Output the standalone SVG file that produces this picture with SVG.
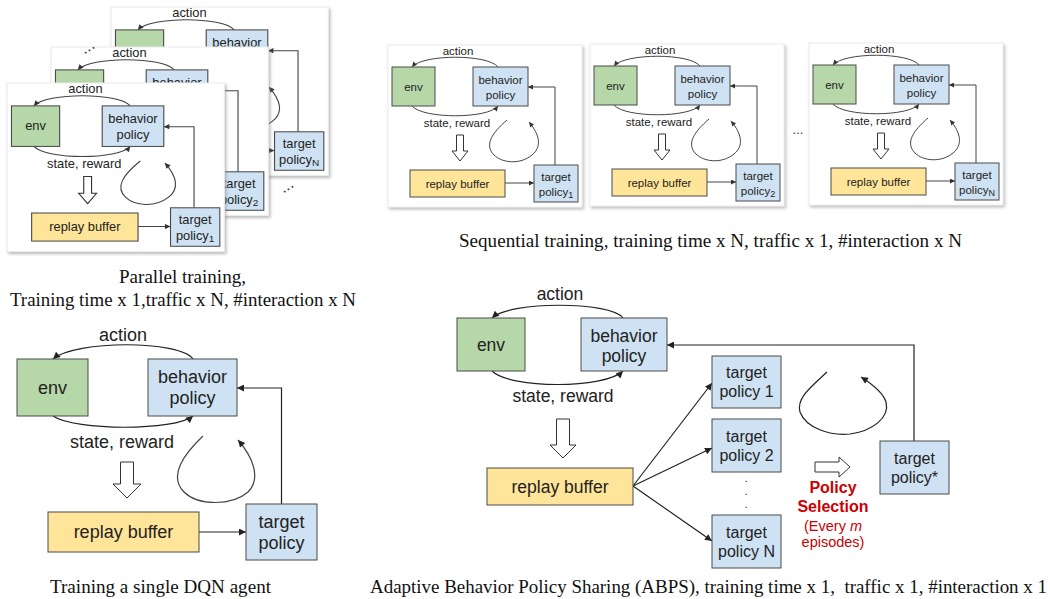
<svg xmlns="http://www.w3.org/2000/svg" width="1050" height="599" viewBox="0 0 1050 599">
<style>
.t{font-family:"Liberation Sans",Arial,sans-serif;font-size:11.5px;fill:#222;text-anchor:middle}
.sub{font-size:9px}
.L{font-size:18px}
.M{font-size:17.5px}
.S{font-size:16px}
.cap{font-family:"Liberation Serif","Times New Roman",serif;font-size:19px;fill:#111;text-anchor:middle;white-space:pre}
.g{fill:#b6d7a8;stroke:#4a4a4a;stroke-width:1}
.b{fill:#cfe2f3;stroke:#4a4a4a;stroke-width:1}
.y{fill:#ffe599;stroke:#4a4a4a;stroke-width:1}
.conn path{fill:none;stroke:#444;stroke-width:1}
.conn2 path{fill:none;stroke:#222;stroke-width:1.2}
.conn path.hollow,.conn2 path.hollow{fill:#fff;stroke:#333;stroke-width:1}
.card{fill:#fff;stroke:#ececec;stroke-width:1;filter:url(#sh)}
.red{fill:#cc0000;font-family:"Liberation Sans",Arial,sans-serif;text-anchor:middle}
.dots{font-family:"Liberation Sans",Arial,sans-serif;fill:#333;text-anchor:middle}
</style>
<defs>
<filter id="sh" x="-5%" y="-5%" width="112%" height="115%">
<feDropShadow dx="1.5" dy="2" stdDeviation="1.5" flood-color="#888" flood-opacity="0.55"/>
</filter>
<marker id="ah" viewBox="0 0 10 10" refX="10" refY="5" markerWidth="6" markerHeight="5" markerUnits="userSpaceOnUse" orient="auto"><path d="M0,0 L10,5 L0,10 z" fill="#333"/></marker>
<marker id="ahL" viewBox="0 0 10 10" refX="10" refY="5" markerWidth="9" markerHeight="7" markerUnits="userSpaceOnUse" orient="auto"><path d="M0,0 L10,5 L0,10 z" fill="#222"/></marker>
</defs>
<rect width="1050" height="599" fill="#fff"/>

<!-- ================= PARALLEL (back) ================= -->
<g id="par3" transform="translate(111,7) scale(1.12,1.04)">
 <rect class="card" x="0" y="0" width="194" height="162"/>
 <g id="p3-connectors" class="conn">
  <path d="M110,22 C100,9 35,9 24,22" marker-end="url(#ah)"/>
  <path d="M24,61 C35,74 100,74 110,61" marker-end="url(#ah)"/>
  <path d="M117,138 L146,138" marker-end="url(#ah)"/>
  <path d="M167,120 L167,42 L140,42" marker-end="url(#ah)"/>
  <path d="M119,75 C104,88 96,100 106,110 C114,118 132,120 144,110 C154,102 152,90 141,77" marker-end="url(#ah)"/>
 </g>
 <text class="t" x="70" y="10">action</text>
 <g id="p3-env"><rect class="g" x="4" y="22" width="43" height="39"/></g>
 <g id="p3-behavior"><rect class="b" x="85" y="22" width="55" height="39"/><text class="t" x="112.5" y="38.5">behavior</text></g>
 <g id="p3-target"><rect class="b" x="146" y="120" width="44" height="37"/><text class="t" x="168" y="135.5">target</text><text class="t" x="168" y="150.5">policy<tspan class="sub" dy="2">N</tspan></text></g>
</g>

<!-- ================= PARALLEL (middle) ================= -->
<g id="par2" transform="translate(51,47) scale(1.12,1.04)">
 <rect class="card" x="0" y="0" width="194" height="162"/>
 <g id="p2-connectors" class="conn">
  <path d="M110,22 C100,9 35,9 24,22" marker-end="url(#ah)"/>
  <path d="M117,138 L146,138" marker-end="url(#ah)"/>
  <path d="M167,120 L167,42 L140,42" marker-end="url(#ah)"/>
 </g>
 <text class="t" x="70" y="10">action</text>
 <g id="p2-env"><rect class="g" x="4" y="22" width="43" height="39"/></g>
 <g id="p2-behavior"><rect class="b" x="85" y="22" width="55" height="39"/><text class="t" x="112.5" y="38.5">behavior</text></g>
 <g id="p2-target"><rect class="b" x="146" y="120" width="44" height="37"/><text class="t" x="168" y="135.5">target</text><text class="t" x="168" y="150.5">policy<tspan class="sub" dy="2">2</tspan></text></g>
</g>

<!-- ================= PARALLEL (front) ================= -->
<g id="par1" transform="translate(7,83) scale(1.12,1.04)">
 <rect class="card" x="0" y="0" width="194" height="162"/>
 <g id="p1-connectors" class="conn">
  <path d="M110,22 C100,9 35,9 24,22" marker-end="url(#ah)"/>
  <path d="M24,61 C35,74 100,74 110,61" marker-end="url(#ah)"/>
  <path d="M117,138 L146,138" marker-end="url(#ah)"/>
  <path d="M167,120 L167,42 L140,42" marker-end="url(#ah)"/>
  <path d="M119,75 C104,88 96,100 106,110 C114,118 132,120 144,110 C154,102 152,90 141,77" marker-end="url(#ah)"/>
  <path class="hollow" d="M68.5,90 H75.5 V106 H80 L72,116 L64,106 H68.5 Z"/>
 </g>
 <text class="t" x="70" y="10">action</text>
 <text class="t" x="69" y="82">state, reward</text>
 <g id="p1-env"><rect class="g" x="4" y="22" width="43" height="39"/><text class="t" x="25.5" y="45.5">env</text></g>
 <g id="p1-behavior"><rect class="b" x="85" y="22" width="55" height="39"/><text class="t" x="112.5" y="38.5">behavior</text><text class="t" x="112.5" y="53.5">policy</text></g>
 <g id="p1-replay"><rect class="y" x="22" y="125" width="95" height="27"/><text class="t" x="69.5" y="142.5">replay buffer</text></g>
 <g id="p1-target"><rect class="b" x="146" y="120" width="44" height="37"/><text class="t" x="168" y="135.5">target</text><text class="t" x="168" y="150.5">policy<tspan class="sub" dy="2">1</tspan></text></g>
</g>
<text class="dots" font-size="16" transform="translate(90,51) rotate(-32)">...</text>
<text class="dots" font-size="16" transform="translate(289,190) rotate(-32)">...</text>

<text class="cap" x="182.5" y="283" textLength="127" lengthAdjust="spacingAndGlyphs">Parallel training,</text>
<text class="cap" x="183" y="306" textLength="346" lengthAdjust="spacingAndGlyphs">Training time x 1,traffic x N, #interaction x N</text>

<!-- ================= SEQUENTIAL ================= -->
<g id="seq1" transform="translate(388,45)">
 <rect class="card" x="0" y="0" width="194" height="162"/>
 <g id="s1-connectors" class="conn">
  <path d="M110,22 C100,9 35,9 24,22" marker-end="url(#ah)"/>
  <path d="M24,61 C35,74 100,74 110,61" marker-end="url(#ah)"/>
  <path d="M117,138 L146,138" marker-end="url(#ah)"/>
  <path d="M167,120 L167,42 L140,42" marker-end="url(#ah)"/>
  <path d="M119,75 C104,88 96,100 106,110 C114,118 132,120 144,110 C154,102 152,90 141,77" marker-end="url(#ah)"/>
  <path class="hollow" d="M68.5,90 H75.5 V106 H80 L72,116 L64,106 H68.5 Z"/>
 </g>
 <text class="t" x="70" y="10">action</text>
 <text class="t" x="69" y="82">state, reward</text>
 <g id="s1-env"><rect class="g" x="4" y="22" width="43" height="39"/><text class="t" x="25.5" y="45.5">env</text></g>
 <g id="s1-behavior"><rect class="b" x="85" y="22" width="55" height="39"/><text class="t" x="112.5" y="38.5">behavior</text><text class="t" x="112.5" y="53.5">policy</text></g>
 <g id="s1-replay"><rect class="y" x="22" y="125" width="95" height="27"/><text class="t" x="69.5" y="142.5">replay buffer</text></g>
 <g id="s1-target"><rect class="b" x="146" y="120" width="44" height="37"/><text class="t" x="168" y="135.5">target</text><text class="t" x="168" y="150.5">policy<tspan class="sub" dy="2">1</tspan></text></g>
</g>

<g id="seq2" transform="translate(590,44)">
 <rect class="card" x="0" y="0" width="194" height="162"/>
 <g id="s2-connectors" class="conn">
  <path d="M110,22 C100,9 35,9 24,22" marker-end="url(#ah)"/>
  <path d="M24,61 C35,74 100,74 110,61" marker-end="url(#ah)"/>
  <path d="M117,138 L146,138" marker-end="url(#ah)"/>
  <path d="M167,120 L167,42 L140,42" marker-end="url(#ah)"/>
  <path d="M119,75 C104,88 96,100 106,110 C114,118 132,120 144,110 C154,102 152,90 141,77" marker-end="url(#ah)"/>
  <path class="hollow" d="M68.5,90 H75.5 V106 H80 L72,116 L64,106 H68.5 Z"/>
 </g>
 <text class="t" x="70" y="10">action</text>
 <text class="t" x="69" y="82">state, reward</text>
 <g id="s2-env"><rect class="g" x="4" y="22" width="43" height="39"/><text class="t" x="25.5" y="45.5">env</text></g>
 <g id="s2-behavior"><rect class="b" x="85" y="22" width="55" height="39"/><text class="t" x="112.5" y="38.5">behavior</text><text class="t" x="112.5" y="53.5">policy</text></g>
 <g id="s2-replay"><rect class="y" x="22" y="125" width="95" height="27"/><text class="t" x="69.5" y="142.5">replay buffer</text></g>
 <g id="s2-target"><rect class="b" x="146" y="120" width="44" height="37"/><text class="t" x="168" y="135.5">target</text><text class="t" x="168" y="150.5">policy<tspan class="sub" dy="2">2</tspan></text></g>
</g>

<text class="dots" font-size="13" x="798" y="134">...</text>

<g id="seq3" transform="translate(809,43)">
 <rect class="card" x="0" y="0" width="194" height="162"/>
 <g id="s3-connectors" class="conn">
  <path d="M110,22 C100,9 35,9 24,22" marker-end="url(#ah)"/>
  <path d="M24,61 C35,74 100,74 110,61" marker-end="url(#ah)"/>
  <path d="M117,138 L146,138" marker-end="url(#ah)"/>
  <path d="M167,120 L167,42 L140,42" marker-end="url(#ah)"/>
  <path d="M119,75 C104,88 96,100 106,110 C114,118 132,120 144,110 C154,102 152,90 141,77" marker-end="url(#ah)"/>
  <path class="hollow" d="M68.5,90 H75.5 V106 H80 L72,116 L64,106 H68.5 Z"/>
 </g>
 <text class="t" x="70" y="10">action</text>
 <text class="t" x="69" y="82">state, reward</text>
 <g id="s3-env"><rect class="g" x="4" y="22" width="43" height="39"/><text class="t" x="25.5" y="45.5">env</text></g>
 <g id="s3-behavior"><rect class="b" x="85" y="22" width="55" height="39"/><text class="t" x="112.5" y="38.5">behavior</text><text class="t" x="112.5" y="53.5">policy</text></g>
 <g id="s3-replay"><rect class="y" x="22" y="125" width="95" height="27"/><text class="t" x="69.5" y="142.5">replay buffer</text></g>
 <g id="s3-target"><rect class="b" x="146" y="120" width="44" height="37"/><text class="t" x="168" y="135.5">target</text><text class="t" x="168" y="150.5">policy<tspan class="sub" dy="2">N</tspan></text></g>
</g>

<text class="cap" x="710.5" y="247" textLength="503" lengthAdjust="spacingAndGlyphs">Sequential training, training time x N, traffic x 1, #interaction x N</text>

<!-- ================= SINGLE DQN ================= -->
<g id="dqn-connectors" class="conn2">
 <path d="M193,359 C180,340 75,340 53,359" marker-end="url(#ahL)"/>
 <path d="M53,416 C75,431 175,431 193,416" marker-end="url(#ahL)"/>
 <path d="M199,532 L246,532" marker-end="url(#ahL)"/>
 <path d="M281.5,504 V388 H237" marker-end="url(#ahL)"/>
 <path d="M203,436 C184,454 168,476 184,492 C198,506 232,506 248,492 C262,478 252,456 238,440" style="stroke:#444" marker-end="url(#ahL)"/>
 <path class="hollow" d="M120.5,462 H133.5 V484 H141 L127,498 L113,484 H120.5 Z"/>
</g>
<text class="t L" x="123" y="341">action</text>
<text class="t L" x="122" y="448">state, reward</text>
<g id="dqn-env"><rect class="g" x="17" y="359" width="71" height="57"/><text class="t L" x="52.5" y="394">env</text></g>
<g id="dqn-behavior"><rect class="b" x="148" y="359" width="89" height="57"/><text class="t L" x="192.5" y="383">behavior</text><text class="t L" x="192.5" y="404">policy</text></g>
<g id="dqn-replay"><rect class="y" x="48" y="512" width="151" height="40"/><text class="t L" x="123.5" y="538">replay buffer</text></g>
<g id="dqn-target"><rect class="b" x="246" y="504" width="71" height="56"/><text class="t L" x="281.5" y="528">target</text><text class="t L" x="281.5" y="549">policy</text></g>
<text class="cap" x="160.5" y="593" textLength="221" lengthAdjust="spacingAndGlyphs">Training a single DQN agent</text>

<!-- ================= ABPS ================= -->
<g id="abps-connectors" class="conn2">
 <path d="M623,318 C610,301 510,301 492,318" marker-end="url(#ahL)"/>
 <path d="M492,371 C510,389 605,389 623,371" marker-end="url(#ahL)"/>
 <path d="M633,486 L712,383" marker-end="url(#ahL)"/>
 <path d="M633,486 L712,448" marker-end="url(#ahL)"/>
 <path d="M633,486 L712,541" marker-end="url(#ahL)"/>
 <path d="M914,441 V345 H667" marker-end="url(#ahL)"/>
 <path d="M827,372 C812,386 796,398 800,412 C806,428 830,436 850,434 C872,431 890,418 886,402 C883,392 872,384 861,377" marker-end="url(#ahL)"/>
 <path class="hollow" d="M556.5,419 H569.5 V445 H576 L563,458 L550,445 H556.5 Z"/>
 <path class="hollow" d="M815,462 H839 V457 L850,467 L839,477 V472 H815 Z"/>
</g>
<text class="t M" x="560" y="300">action</text>
<text class="t M" x="563" y="402">state, reward</text>
<g id="abps-env"><rect class="g" x="457" y="318" width="68" height="53"/><text class="t M" x="491" y="351">env</text></g>
<g id="abps-behavior"><rect class="b" x="581" y="318" width="86" height="53"/><text class="t M" x="624" y="341.5">behavior</text><text class="t M" x="624" y="361.5">policy</text></g>
<g id="abps-replay"><rect class="y" x="487" y="468" width="146" height="37"/><text class="t M" x="560" y="492.5">replay buffer</text></g>
<g id="abps-target1"><rect class="b" x="712" y="356" width="69" height="52"/><text class="t S" x="746.5" y="377.5">target</text><text class="t S" x="746.5" y="396.5">policy 1</text></g>
<g id="abps-target2"><rect class="b" x="712" y="419" width="69" height="53"/><text class="t S" x="746.5" y="441.5">target</text><text class="t S" x="746.5" y="460.5">policy 2</text></g>
<g id="abps-vdots"><text class="t" font-size="10.5" x="746" y="482">.</text><text class="t" font-size="10.5" x="746" y="495">.</text><text class="t" font-size="10.5" x="746" y="508">.</text></g>
<g id="abps-targetN"><rect class="b" x="712" y="515" width="69" height="53"/><text class="t S" x="746.5" y="538">target</text><text class="t S" x="746.5" y="557">policy N</text></g>
<g id="abps-targetstar"><rect class="b" x="880" y="441" width="69" height="53"/><text class="t S" x="914.5" y="464">target</text><text class="t S" x="914.5" y="483">policy*</text></g>
<g id="abps-selection">
 <text class="red" x="833" y="493" font-size="16" font-weight="bold">Policy</text>
 <text class="red" x="833" y="512" font-size="16" font-weight="bold">Selection</text>
 <text class="red" x="833" y="531" font-size="14.5">(Every <tspan font-style="italic">m</tspan></text>
 <text class="red" x="833" y="547" font-size="14.5">episodes)</text>
</g>
<text class="cap" x="708.5" y="593" textLength="677" lengthAdjust="spacingAndGlyphs">Adaptive Behavior Policy Sharing (ABPS), training time x 1,  traffic x 1, #interaction x 1</text>
</svg>
